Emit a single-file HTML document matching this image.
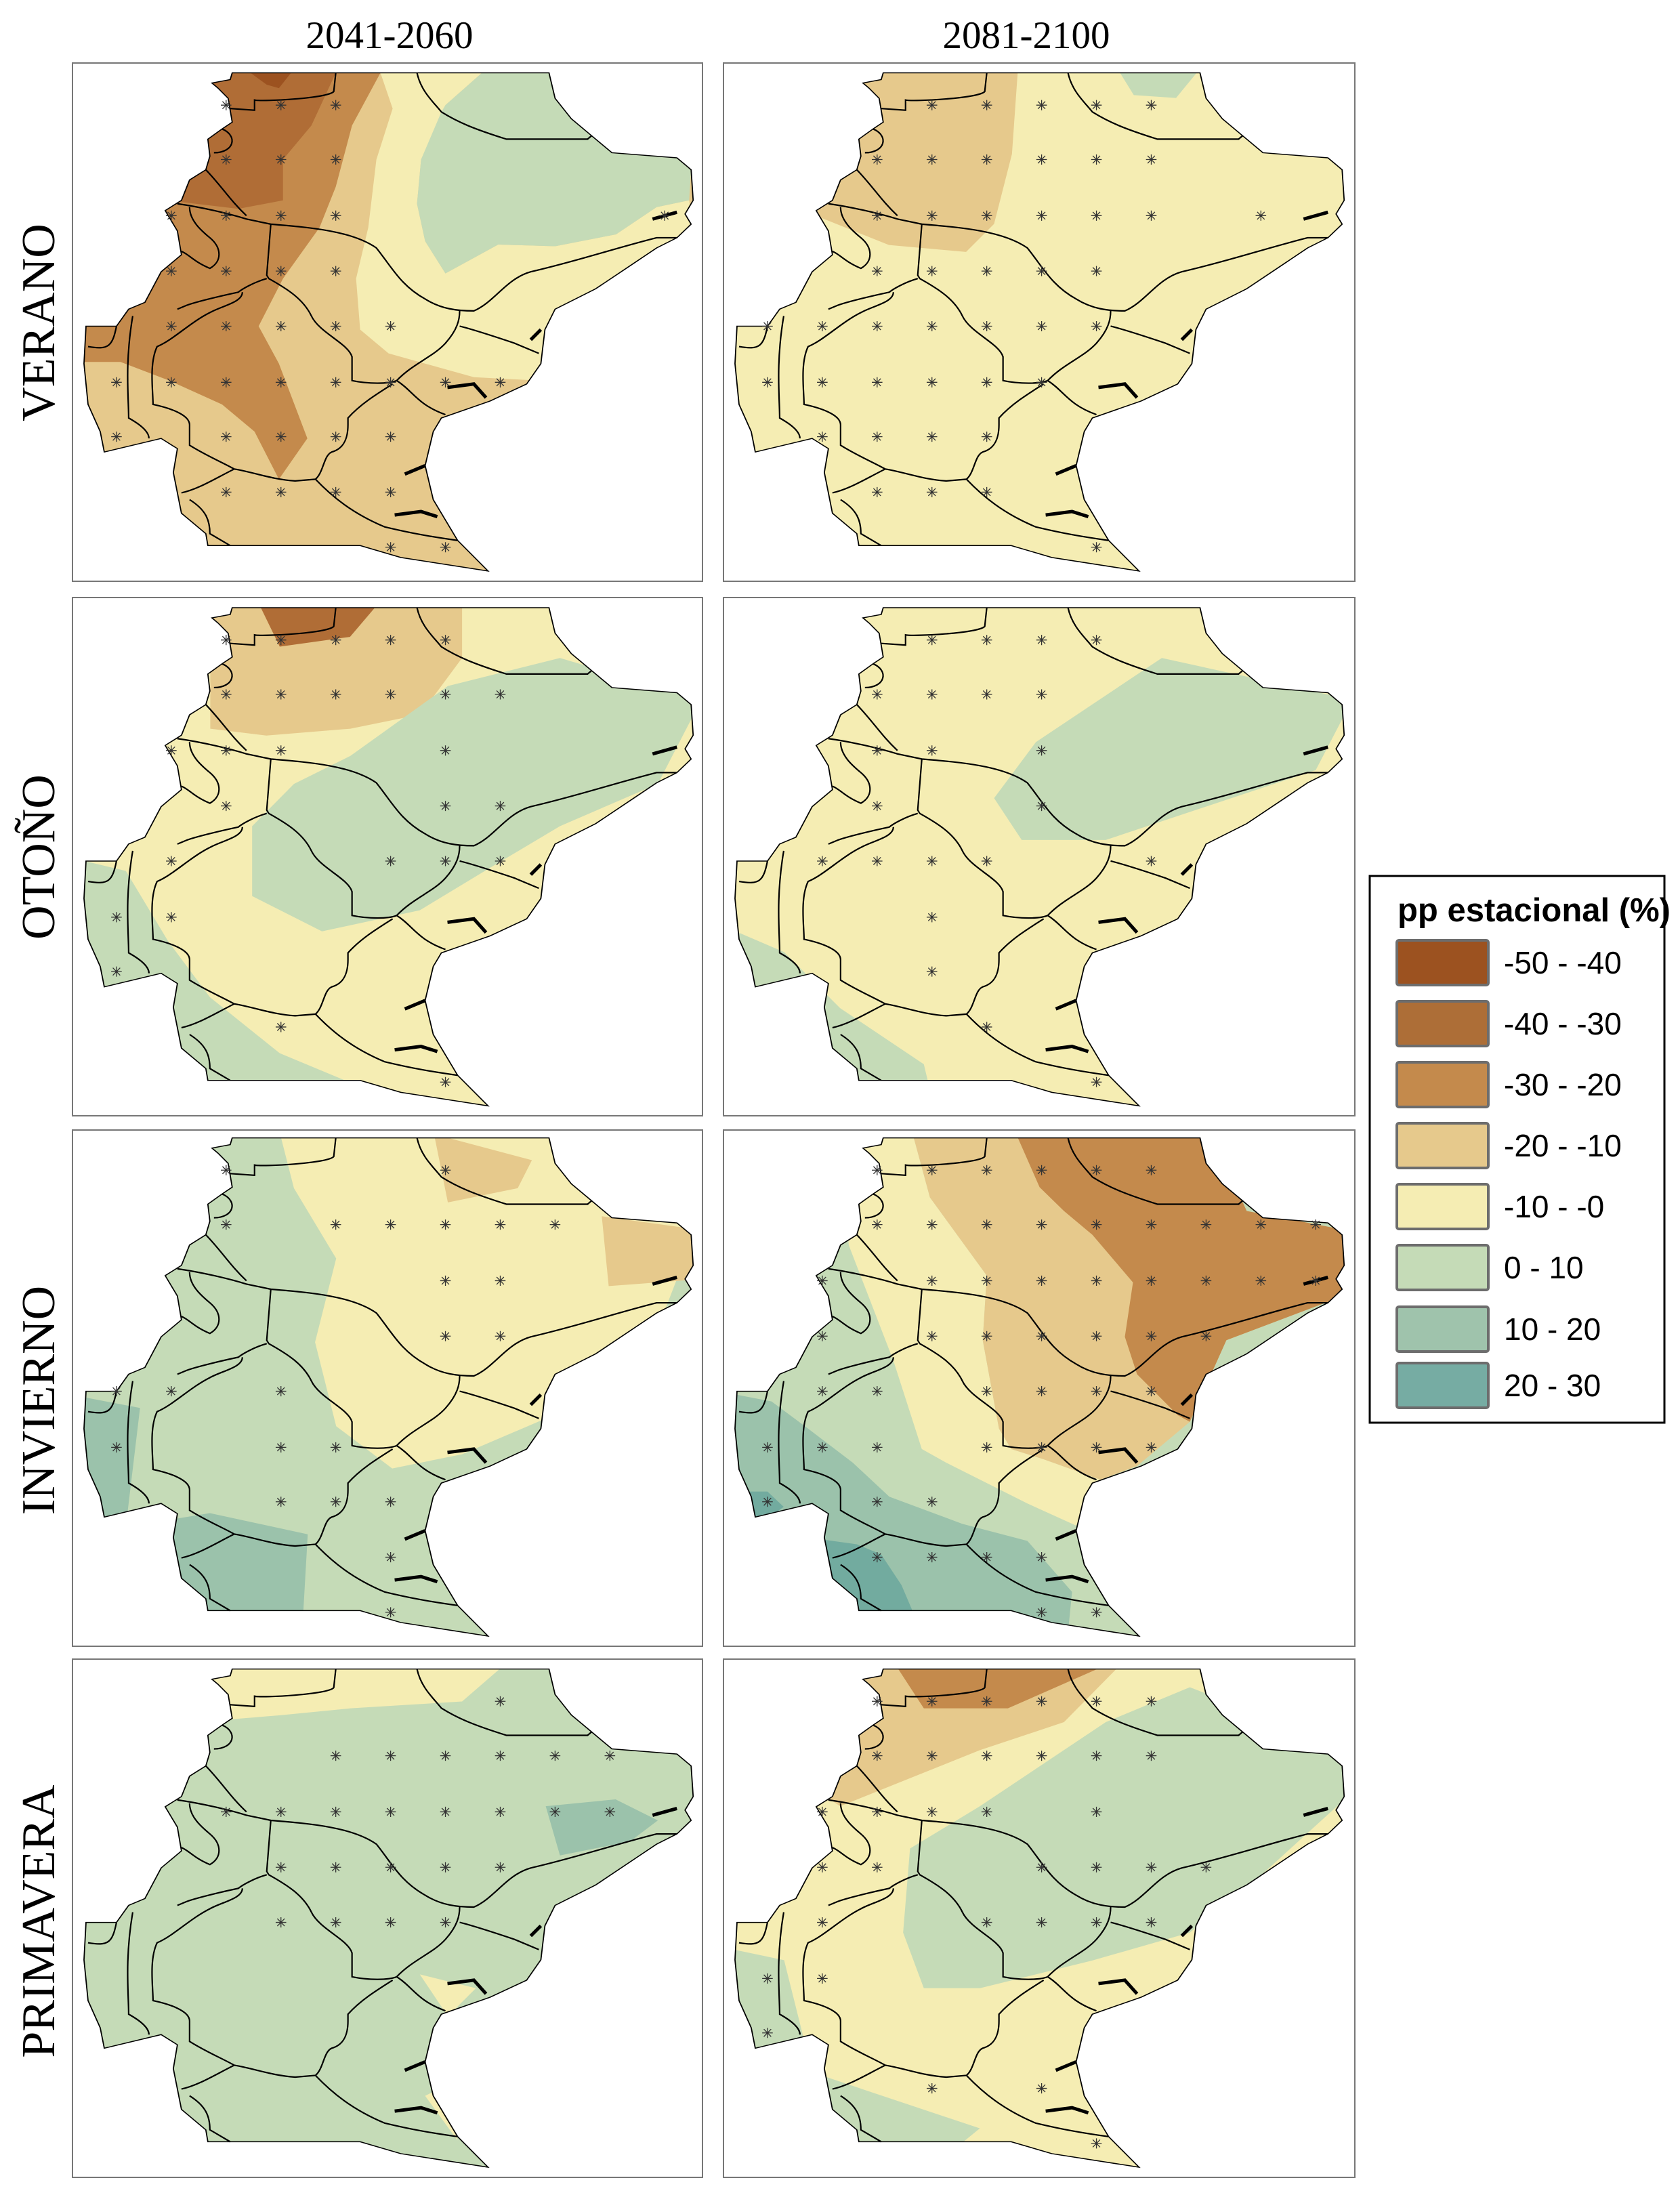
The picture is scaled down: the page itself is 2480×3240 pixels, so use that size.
<!DOCTYPE html>
<html><head><meta charset="utf-8"><style>
html,body{margin:0;padding:0;background:#fff;}
svg{display:block;}
</style></head><body>
<svg width="2480" height="3240" viewBox="0 0 2480 3240" xmlns="http://www.w3.org/2000/svg">
<defs>
<path id="ol" d="M405,45 L1185,45 L1200,120 L1240,180 L1290,230 L1340,280 L1500,295 L1535,330 L1540,420 L1520,460 L1535,490 L1500,530 L1450,560 L1400,600 L1300,680 L1200,740 L1175,800 L1165,900 L1130,960 L1040,1010 L920,1060 L900,1100 L880,1200 L900,1300 L960,1420 L1035,1510 L820,1470 L720,1435 L345,1435 L340,1400 L280,1340 L270,1280 L260,1220 L270,1150 L230,1120 L90,1160 L80,1100 L50,1020 L40,900 L45,790 L120,790 L150,740 L190,720 L230,630 L280,580 L270,510 L240,450 L280,420 L300,360 L340,330 L350,290 L345,240 L380,210 L405,190 L395,120 L370,90 L355,75 L400,65 Z"/>
<clipPath id="cl"><use href="#ol"/></clipPath>
<g id="ln" fill="none" stroke="#000" stroke-width="2.2" vector-effect="non-scaling-stroke">
<path vector-effect="non-scaling-stroke" d="M860,45 C870,100 900,130 920,160 C960,190 1000,210 1080,240 L1280,240 L1290,230"/>
<path vector-effect="non-scaling-stroke" d="M660,45 L655,100 C640,120 480,130 460,125 L460,155 L400,150"/>
<path vector-effect="non-scaling-stroke" d="M270,430 C330,440 400,460 440,475 L500,490 C600,500 700,510 760,560 C800,620 820,670 880,710 C920,740 960,745 1000,745 C1050,720 1080,650 1140,630 C1250,600 1350,560 1450,530 L1500,530"/>
<path vector-effect="non-scaling-stroke" d="M500,490 L490,640 L495,650 C540,680 580,710 600,760 C620,810 690,840 700,880 L700,950 C740,960 790,960 810,950 C850,900 900,880 930,840 C960,800 965,770 965,745"/>
<path vector-effect="non-scaling-stroke" d="M965,790 C1000,800 1050,820 1100,840 L1160,870"/>
<path vector-effect="non-scaling-stroke" d="M490,650 C460,660 430,680 420,690 C380,700 310,720 290,730 L270,740"/>
<path vector-effect="non-scaling-stroke" d="M430,690 C430,720 380,730 350,750 C300,780 260,830 220,850 C200,900 210,980 210,1020 C250,1030 300,1050 300,1080 L300,1140 C340,1170 380,1190 410,1210 C460,1220 500,1240 560,1245 L610,1240 C630,1220 630,1170 650,1160 C680,1150 690,1120 690,1080 L690,1060 C720,1020 760,990 800,960"/>
<path vector-effect="non-scaling-stroke" d="M810,950 C850,980 860,1020 930,1050"/>
<path vector-effect="non-scaling-stroke" d="M610,1240 C650,1290 700,1340 780,1380 C850,1400 900,1410 960,1420"/>
<path vector-effect="non-scaling-stroke" d="M410,1210 C360,1240 320,1270 280,1280"/>
<path vector-effect="non-scaling-stroke" d="M300,1300 C340,1330 350,1360 350,1400 L400,1435"/>
<path vector-effect="non-scaling-stroke" d="M50,850 C100,860 110,850 120,790"/>
<path vector-effect="non-scaling-stroke" d="M160,760 C140,900 150,1000 150,1060 C180,1080 200,1100 200,1120"/>
<path vector-effect="non-scaling-stroke" d="M300,440 C300,480 330,510 350,530 C380,560 380,600 350,620 C310,600 300,580 280,570"/>
<path vector-effect="non-scaling-stroke" d="M340,330 C380,380 400,420 440,465"/>
<path vector-effect="non-scaling-stroke" d="M380,210 C420,230 410,280 360,280"/>
</g>
<g id="bays" fill="none" stroke="#000" stroke-width="5" vector-effect="non-scaling-stroke">
<path vector-effect="non-scaling-stroke" d="M935,970 L1000,960 L1030,1000"/>
<path vector-effect="non-scaling-stroke" d="M830,1225 L880,1200"/>
<path vector-effect="non-scaling-stroke" d="M805,1345 L870,1335 L910,1350"/>
<path vector-effect="non-scaling-stroke" d="M1440,475 L1500,455"/>
<path vector-effect="non-scaling-stroke" d="M1140,830 L1165,800"/>
</g>
<path id="st" d="M-13,0H13M0,-15V15M-9,-11L9,11M-9,11L9,-11" stroke="#333" stroke-width="1.3" vector-effect="non-scaling-stroke" fill="none"/>
</defs>

<!-- titles -->
<g font-family="Liberation Serif, serif" fill="#000">
<text x="575" y="71" font-size="57" text-anchor="middle">2041-2060</text>
<text x="1515" y="71" font-size="57" text-anchor="middle">2081-2100</text>
<text transform="translate(80,476) rotate(-90)" font-size="70" text-anchor="middle">VERANO</text>
<text transform="translate(80,1265) rotate(-90)" font-size="70" text-anchor="middle">OTOÑO</text>
<text transform="translate(80,2067) rotate(-90)" font-size="70" text-anchor="middle">INVIERNO</text>
<text transform="translate(80,2836) rotate(-90)" font-size="70" text-anchor="middle">PRIMAVERA</text>
</g>

<!-- panel frames -->
<g fill="#fff" stroke="#777" stroke-width="2">
<rect x="107" y="93" width="930" height="765"/>
<rect x="1068" y="93" width="932" height="765"/>
<rect x="107" y="882" width="930" height="765"/>
<rect x="1068" y="882" width="932" height="765"/>
<rect x="107" y="1668" width="930" height="762"/>
<rect x="1068" y="1668" width="932" height="762"/>
<rect x="107" y="2449" width="930" height="765"/>
<rect x="1068" y="2449" width="932" height="765"/>
</g>

<!-- P1 Verano 2041 -->
<g transform="translate(100,84.9) scale(0.5995,0.502)">
<g clip-path="url(#cl)">
<rect x="0" y="0" width="1600" height="1600" fill="#e6c98c"/>
<path fill="#c48a4c" d="M350,45 L770,45 L700,200 L660,380 L620,500 L530,650 L470,790 L520,900 L590,1120 L520,1240 L460,1100 L380,1020 L250,950 L130,895 L40,895 L40,400 Z"/>
<path fill="#b06d36" d="M350,45 L660,45 L600,200 L530,300 L530,420 L420,445 L280,425 L200,300 L300,45 Z"/>
<path fill="#9c5220" d="M450,45 L550,45 L520,90 L490,80 Z"/>
<path fill="#f5edb3" d="M770,45 L1020,45 L930,140 L870,300 L860,430 L880,540 L930,635 L1060,550 L1200,555 L1350,520 L1450,440 L1530,420 L1540,500 L1160,950 L1000,940 L880,900 L790,870 L720,800 L710,650 L740,500 L760,300 L800,150 Z"/>
<path fill="#c5dbb7" d="M930,140 L1020,45 L1185,45 L1290,230 L1340,280 L1500,295 L1535,330 L1530,420 L1450,440 L1350,520 L1200,555 L1060,550 L930,635 L880,540 L860,430 L870,300 L920,160 Z"/>
</g>
<use href="#ol" fill="none" stroke="#000" stroke-width="3" vector-effect="non-scaling-stroke"/>
<use href="#ln"/><use href="#bays"/>
<g><use href="#st" x="390" y="140"/><use href="#st" x="525" y="140"/><use href="#st" x="660" y="140"/>
<use href="#st" x="390" y="300"/><use href="#st" x="525" y="300"/><use href="#st" x="660" y="300"/>
<use href="#st" x="255" y="465"/><use href="#st" x="390" y="465"/><use href="#st" x="525" y="465"/><use href="#st" x="660" y="465"/><use href="#st" x="1470" y="465"/>
<use href="#st" x="255" y="628"/><use href="#st" x="390" y="628"/><use href="#st" x="525" y="628"/><use href="#st" x="660" y="628"/>
<use href="#st" x="255" y="790"/><use href="#st" x="390" y="790"/><use href="#st" x="525" y="790"/><use href="#st" x="660" y="790"/><use href="#st" x="795" y="790"/>
<use href="#st" x="120" y="955"/><use href="#st" x="255" y="955"/><use href="#st" x="390" y="955"/><use href="#st" x="525" y="955"/><use href="#st" x="660" y="955"/><use href="#st" x="795" y="955"/><use href="#st" x="930" y="955"/><use href="#st" x="1065" y="955"/>
<use href="#st" x="120" y="1115"/><use href="#st" x="390" y="1115"/><use href="#st" x="525" y="1115"/><use href="#st" x="660" y="1115"/><use href="#st" x="795" y="1115"/>
<use href="#st" x="390" y="1278"/><use href="#st" x="525" y="1278"/><use href="#st" x="660" y="1278"/><use href="#st" x="795" y="1278"/>
<use href="#st" x="795" y="1440"/><use href="#st" x="930" y="1440"/></g>
</g>

<!-- P2 Verano 2081 -->
<g transform="translate(1061,84.9) scale(0.5995,0.502)">
<g clip-path="url(#cl)">
<rect x="0" y="0" width="1600" height="1600" fill="#f5edb3"/>
<g transform="translate(0,10.2) scale(1,1.1944)">
<path fill="#e6c98c" d="M178,30 L736,30 L722,229 L678,401 L609,470 L419,453 L247,384 Z"/>
<path fill="#c5dbb7" d="M988,29 L1177,29 L1126,91 L1022,84 Z"/>
</g>
</g>
<use href="#ol" fill="none" stroke="#000" stroke-width="3" vector-effect="non-scaling-stroke"/>
<use href="#ln"/><use href="#bays"/>
<g><use href="#st" x="525" y="140"/><use href="#st" x="660" y="140"/><use href="#st" x="795" y="140"/><use href="#st" x="930" y="140"/><use href="#st" x="1065" y="140"/>
<use href="#st" x="390" y="300"/><use href="#st" x="525" y="300"/><use href="#st" x="660" y="300"/><use href="#st" x="795" y="300"/><use href="#st" x="930" y="300"/><use href="#st" x="1065" y="300"/>
<use href="#st" x="390" y="465"/><use href="#st" x="525" y="465"/><use href="#st" x="660" y="465"/><use href="#st" x="795" y="465"/><use href="#st" x="930" y="465"/><use href="#st" x="1065" y="465"/><use href="#st" x="1335" y="465"/>
<use href="#st" x="390" y="628"/><use href="#st" x="525" y="628"/><use href="#st" x="660" y="628"/><use href="#st" x="795" y="628"/><use href="#st" x="930" y="628"/>
<use href="#st" x="120" y="790"/><use href="#st" x="255" y="790"/><use href="#st" x="390" y="790"/><use href="#st" x="525" y="790"/><use href="#st" x="660" y="790"/><use href="#st" x="795" y="790"/><use href="#st" x="930" y="790"/>
<use href="#st" x="120" y="955"/><use href="#st" x="255" y="955"/><use href="#st" x="390" y="955"/><use href="#st" x="525" y="955"/><use href="#st" x="660" y="955"/><use href="#st" x="795" y="955"/>
<use href="#st" x="255" y="1115"/><use href="#st" x="390" y="1115"/><use href="#st" x="525" y="1115"/><use href="#st" x="660" y="1115"/>
<use href="#st" x="390" y="1278"/><use href="#st" x="525" y="1278"/><use href="#st" x="660" y="1278"/>
<use href="#st" x="930" y="1440"/></g>
</g>

<!-- P3 Otono 2041 -->
<g transform="translate(100,874.4) scale(0.5995,0.502)">
<g clip-path="url(#cl)">
<rect x="0" y="0" width="1600" height="1600" fill="#f5edb3"/>
<g transform="translate(0,10.2) scale(1,1.1944)">
<path fill="#e6c98c" d="M351,20 L971,20 L971,153 L868,292 L696,327 L489,344 L351,327 Z"/>
<path fill="#b06d36" d="M471,20 L764,20 L695,101 L522,125 Z"/>
<path fill="#c5dbb7" d="M696,394 L936,222 L1212,153 L1560,256 L1453,463 L1212,567 L1039,670 L867,774 L626,826 L454,739 L454,567 L557,463 Z"/>
<path fill="#c5dbb7" d="M0,643 L143,677 L247,850 L350,988 L522,1126 L729,1212 L316,1300 L0,1100 Z"/>
</g>
</g>
<use href="#ol" fill="none" stroke="#000" stroke-width="3" vector-effect="non-scaling-stroke"/>
<use href="#ln"/><use href="#bays"/>
<g><use href="#st" x="390" y="140"/><use href="#st" x="525" y="140"/><use href="#st" x="660" y="140"/><use href="#st" x="795" y="140"/><use href="#st" x="930" y="140"/>
<use href="#st" x="390" y="300"/><use href="#st" x="525" y="300"/><use href="#st" x="660" y="300"/><use href="#st" x="795" y="300"/><use href="#st" x="930" y="300"/><use href="#st" x="1065" y="300"/>
<use href="#st" x="255" y="465"/><use href="#st" x="390" y="465"/><use href="#st" x="525" y="465"/><use href="#st" x="930" y="465"/>
<use href="#st" x="390" y="628"/><use href="#st" x="930" y="628"/><use href="#st" x="1065" y="628"/>
<use href="#st" x="255" y="790"/><use href="#st" x="795" y="790"/><use href="#st" x="930" y="790"/><use href="#st" x="1065" y="790"/>
<use href="#st" x="120" y="955"/><use href="#st" x="255" y="955"/>
<use href="#st" x="120" y="1115"/><use href="#st" x="525" y="1278"/><use href="#st" x="930" y="1440"/></g>
</g>

<!-- P4 Otono 2081 -->
<g transform="translate(1061,874.4) scale(0.5995,0.502)">
<g clip-path="url(#cl)">
<rect x="0" y="0" width="1600" height="1600" fill="#f5edb3"/>
<g transform="translate(0,10.2) scale(1,1.1944)">
<path fill="#c5dbb7" d="M781,360 L1091,153 L1560,256 L1470,429 L1160,532 L953,601 L746,601 L678,498 Z"/>
<path fill="#c5dbb7" d="M0,808 L161,877 L299,1015 L505,1153 L540,1300 L299,1300 L0,1100 Z"/>
</g>
</g>
<use href="#ol" fill="none" stroke="#000" stroke-width="3" vector-effect="non-scaling-stroke"/>
<use href="#ln"/><use href="#bays"/>
<g><use href="#st" x="525" y="140"/><use href="#st" x="660" y="140"/><use href="#st" x="795" y="140"/><use href="#st" x="930" y="140"/>
<use href="#st" x="390" y="300"/><use href="#st" x="525" y="300"/><use href="#st" x="660" y="300"/><use href="#st" x="795" y="300"/>
<use href="#st" x="390" y="465"/><use href="#st" x="525" y="465"/><use href="#st" x="795" y="465"/>
<use href="#st" x="390" y="628"/><use href="#st" x="795" y="628"/>
<use href="#st" x="255" y="790"/><use href="#st" x="390" y="790"/><use href="#st" x="525" y="790"/><use href="#st" x="660" y="790"/><use href="#st" x="1065" y="790"/>
<use href="#st" x="525" y="955"/><use href="#st" x="525" y="1115"/><use href="#st" x="660" y="1278"/><use href="#st" x="930" y="1440"/></g>
</g>

<!-- P5 Invierno 2041 -->
<g transform="translate(100,1657) scale(0.5995,0.502)">
<g clip-path="url(#cl)">
<rect x="0" y="0" width="1600" height="1600" fill="#c5dbb7"/>
<g transform="translate(0,10.2) scale(1,1.1944)">
<path fill="#f5edb3" d="M523,20 L1315,20 L1560,222 L1453,498 L1212,705 L971,808 L799,843 L661,739 L609,532 L661,326 L557,153 Z"/>
<path fill="#e6c98c" d="M902,20 L1143,84 L1108,153 L936,188 Z"/>
<path fill="#e6c98c" d="M1315,222 L1560,256 L1560,377 L1332,394 Z"/>
<path fill="#9bc2ab" d="M0,660 L178,694 L143,987 L350,953 L591,1005 L574,1300 L281,1300 L0,1000 Z"/>
</g>
</g>
<use href="#ol" fill="none" stroke="#000" stroke-width="3" vector-effect="non-scaling-stroke"/>
<use href="#ln"/><use href="#bays"/>
<g><use href="#st" x="930" y="140"/><use href="#st" x="390" y="140"/>
<use href="#st" x="390" y="300"/><use href="#st" x="660" y="300"/><use href="#st" x="795" y="300"/><use href="#st" x="930" y="300"/><use href="#st" x="1065" y="300"/><use href="#st" x="1200" y="300"/>
<use href="#st" x="930" y="465"/><use href="#st" x="1065" y="465"/>
<use href="#st" x="930" y="628"/><use href="#st" x="1065" y="628"/>
<use href="#st" x="120" y="790"/><use href="#st" x="255" y="790"/><use href="#st" x="525" y="790"/>
<use href="#st" x="120" y="955"/><use href="#st" x="525" y="955"/><use href="#st" x="660" y="955"/>
<use href="#st" x="525" y="1115"/><use href="#st" x="660" y="1115"/><use href="#st" x="795" y="1115"/>
<use href="#st" x="795" y="1278"/><use href="#st" x="795" y="1440"/></g>
</g>

<!-- P6 Invierno 2081 -->
<g transform="translate(1061,1657) scale(0.5995,0.502)">
<g clip-path="url(#cl)">
<rect x="0" y="0" width="1600" height="1600" fill="#c5dbb7"/>
<path fill="#f5edb3" d="M300,0 L470,0 L520,220 L660,450 L650,640 L690,900 L720,960 L800,990 L940,1050 L880,1185 L760,1120 L560,1000 L500,960 L430,700 L320,360 L300,45 Z"/>
<path fill="#e6c98c" d="M470,0 L1200,0 L1300,260 L1560,320 L1560,500 L1250,640 L1160,880 L1030,1010 L940,1050 L800,990 L720,960 L690,900 L650,640 L660,450 L520,220 Z"/>
<path fill="#c48a4c" d="M720,0 L1200,0 L1300,260 L1560,320 L1560,500 L1250,640 L1160,880 L1130,860 L1030,740 L1000,630 L1020,470 L920,330 L850,260 L790,190 Z"/>
<path fill="#9bc2ab" d="M0,790 L130,820 L220,900 L330,1000 L420,1100 L600,1180 L760,1230 L870,1380 L860,1500 L720,1500 L345,1500 L260,1220 L200,1130 L90,1170 L0,1020 Z"/>
<path fill="#72ab9f" d="M0,1085 L120,1085 L160,1130 L90,1190 L0,1150 Z"/>
<path fill="#72ab9f" d="M250,1225 L340,1240 L400,1270 L450,1360 L500,1500 L345,1500 L260,1340 Z"/>
</g>
<use href="#ol" fill="none" stroke="#000" stroke-width="3" vector-effect="non-scaling-stroke"/>
<use href="#ln"/><use href="#bays"/>
<g><use href="#st" x="390" y="140"/><use href="#st" x="525" y="140"/><use href="#st" x="660" y="140"/><use href="#st" x="795" y="140"/><use href="#st" x="930" y="140"/><use href="#st" x="1065" y="140"/>
<use href="#st" x="390" y="300"/><use href="#st" x="525" y="300"/><use href="#st" x="660" y="300"/><use href="#st" x="795" y="300"/><use href="#st" x="930" y="300"/><use href="#st" x="1065" y="300"/><use href="#st" x="1200" y="300"/><use href="#st" x="1335" y="300"/><use href="#st" x="1470" y="300"/>
<use href="#st" x="255" y="465"/><use href="#st" x="525" y="465"/><use href="#st" x="660" y="465"/><use href="#st" x="795" y="465"/><use href="#st" x="930" y="465"/><use href="#st" x="1065" y="465"/><use href="#st" x="1200" y="465"/><use href="#st" x="1335" y="465"/><use href="#st" x="1470" y="465"/>
<use href="#st" x="255" y="628"/><use href="#st" x="525" y="628"/><use href="#st" x="660" y="628"/><use href="#st" x="795" y="628"/><use href="#st" x="930" y="628"/><use href="#st" x="1065" y="628"/><use href="#st" x="1200" y="628"/>
<use href="#st" x="255" y="790"/><use href="#st" x="390" y="790"/><use href="#st" x="660" y="790"/><use href="#st" x="795" y="790"/><use href="#st" x="930" y="790"/><use href="#st" x="1065" y="790"/>
<use href="#st" x="120" y="955"/><use href="#st" x="255" y="955"/><use href="#st" x="390" y="955"/><use href="#st" x="660" y="955"/><use href="#st" x="795" y="955"/><use href="#st" x="930" y="955"/><use href="#st" x="1065" y="955"/>
<use href="#st" x="120" y="1115"/><use href="#st" x="390" y="1115"/><use href="#st" x="525" y="1115"/>
<use href="#st" x="390" y="1278"/><use href="#st" x="525" y="1278"/><use href="#st" x="660" y="1278"/><use href="#st" x="795" y="1278"/>
<use href="#st" x="795" y="1440"/><use href="#st" x="930" y="1440"/></g>
</g>

<!-- P7 Primavera 2041 -->
<g transform="translate(100,2441) scale(0.5995,0.502)">
<g clip-path="url(#cl)">
<rect x="0" y="0" width="1600" height="1600" fill="#c5dbb7"/>
<g transform="translate(0,10.2) scale(1,1.1944)">
<path fill="#f5edb3" d="M351,20 L1074,20 L971,109 L696,126 L523,143 L316,160 Z"/>
<path fill="#9bc2ab" d="M1177,367 L1349,350 L1453,402 L1384,454 L1212,488 Z"/>
<path fill="#f5edb3" d="M867,781 L1005,815 L936,884 Z"/>
<path fill="#f5edb3" d="M880,1080 L920,1060 L960,1190 Z"/>
</g>
</g>
<use href="#ol" fill="none" stroke="#000" stroke-width="3" vector-effect="non-scaling-stroke"/>
<use href="#ln"/><use href="#bays"/>
<g><use href="#st" x="1065" y="140"/>
<use href="#st" x="660" y="300"/><use href="#st" x="795" y="300"/><use href="#st" x="930" y="300"/><use href="#st" x="1065" y="300"/><use href="#st" x="1200" y="300"/><use href="#st" x="1335" y="300"/>
<use href="#st" x="390" y="465"/><use href="#st" x="525" y="465"/><use href="#st" x="660" y="465"/><use href="#st" x="795" y="465"/><use href="#st" x="930" y="465"/><use href="#st" x="1065" y="465"/><use href="#st" x="1200" y="465"/><use href="#st" x="1335" y="465"/>
<use href="#st" x="525" y="628"/><use href="#st" x="660" y="628"/><use href="#st" x="795" y="628"/><use href="#st" x="930" y="628"/><use href="#st" x="1065" y="628"/>
<use href="#st" x="525" y="790"/><use href="#st" x="660" y="790"/><use href="#st" x="795" y="790"/><use href="#st" x="930" y="790"/></g>
</g>

<!-- P8 Primavera 2081 -->
<g transform="translate(1061,2441) scale(0.5995,0.502)">
<g clip-path="url(#cl)">
<rect x="0" y="0" width="1600" height="1600" fill="#f5edb3"/>
<g transform="translate(0,10.2) scale(1,1.1944)">
<path fill="#c5dbb7" d="M643,367 L953,160 L1160,74 L1560,229 L1560,333 L1332,540 L1160,678 L919,747 L643,815 L505,815 L454,678 L471,471 Z"/>
<path fill="#e6c98c" d="M333,20 L988,20 L850,160 L643,229 L471,298 L299,367 L200,300 Z"/>
<path fill="#c48a4c" d="M436,20 L953,20 L712,126 L505,126 Z"/>
<path fill="#c5dbb7" d="M0,712 L161,746 L230,1022 L436,1091 L643,1160 L471,1300 L230,1300 L0,1000 Z"/>
</g>
</g>
<use href="#ol" fill="none" stroke="#000" stroke-width="3" vector-effect="non-scaling-stroke"/>
<use href="#ln"/><use href="#bays"/>
<g><use href="#st" x="390" y="140"/><use href="#st" x="525" y="140"/><use href="#st" x="660" y="140"/><use href="#st" x="795" y="140"/><use href="#st" x="930" y="140"/><use href="#st" x="1065" y="140"/>
<use href="#st" x="390" y="300"/><use href="#st" x="525" y="300"/><use href="#st" x="660" y="300"/><use href="#st" x="795" y="300"/><use href="#st" x="930" y="300"/><use href="#st" x="1065" y="300"/>
<use href="#st" x="255" y="465"/><use href="#st" x="390" y="465"/><use href="#st" x="525" y="465"/><use href="#st" x="660" y="465"/><use href="#st" x="930" y="465"/>
<use href="#st" x="255" y="628"/><use href="#st" x="390" y="628"/><use href="#st" x="795" y="628"/><use href="#st" x="930" y="628"/><use href="#st" x="1065" y="628"/><use href="#st" x="1200" y="628"/>
<use href="#st" x="255" y="790"/><use href="#st" x="660" y="790"/><use href="#st" x="795" y="790"/><use href="#st" x="930" y="790"/><use href="#st" x="1065" y="790"/>
<use href="#st" x="120" y="955"/><use href="#st" x="255" y="955"/>
<use href="#st" x="120" y="1115"/>
<use href="#st" x="525" y="1278"/><use href="#st" x="795" y="1278"/>
<use href="#st" x="930" y="1440"/></g>
</g>

<!-- legend -->
<rect x="2022" y="1293" width="435" height="807" fill="#fff" stroke="#000" stroke-width="3"/>
<text x="2063" y="1360" font-family="Liberation Sans, sans-serif" font-weight="bold" font-size="49" fill="#000">pp estacional (%)</text>
<g stroke="#6d6d6d" stroke-width="4">
<rect x="2062" y="1388" width="135" height="66" rx="3" fill="#9c5220"/>
<rect x="2062" y="1478" width="135" height="66" rx="3" fill="#ad6e37"/>
<rect x="2062" y="1568" width="135" height="66" rx="3" fill="#c48a4c"/>
<rect x="2062" y="1658" width="135" height="66" rx="3" fill="#e6c98c"/>
<rect x="2062" y="1748" width="135" height="66" rx="3" fill="#f5edb3"/>
<rect x="2062" y="1838" width="135" height="66" rx="3" fill="#c5dbb7"/>
<rect x="2062" y="1929" width="135" height="66" rx="3" fill="#9fc3ac"/>
<rect x="2062" y="2012" width="135" height="66" rx="3" fill="#76aca3"/>
</g>
<g font-family="Liberation Sans, sans-serif" font-size="46" fill="#000">
<text x="2220" y="1437">-50 - -40</text>
<text x="2220" y="1527">-40 - -30</text>
<text x="2220" y="1617">-30 - -20</text>
<text x="2220" y="1707">-20 - -10</text>
<text x="2220" y="1797">-10 - -0</text>
<text x="2220" y="1887">0 - 10</text>
<text x="2220" y="1978">10 - 20</text>
<text x="2220" y="2061">20 - 30</text>
</g>
</svg>
</body></html>
